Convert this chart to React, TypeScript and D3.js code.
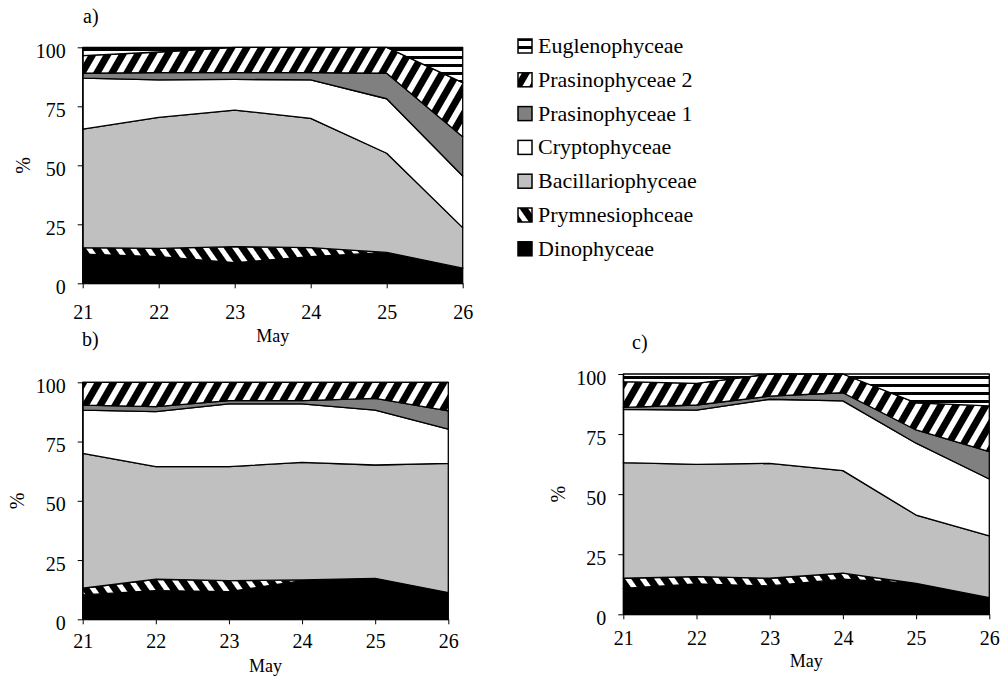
import React, { useRef, useEffect } from "react";
import * as d3 from "d3";

const days = [21, 22, 23, 24, 25, 26];
const yTicks = [0, 25, 50, 75, 100];

// stacking order, bottom to top
const groups = [
  "Dinophyceae",
  "Prymnesiophceae",
  "Bacillariophyceae",
  "Cryptophyceae",
  "Prasinophyceae 1",
  "Prasinophyceae 2",
  "Euglenophyceae",
];

// panel a) - percent of total
const dinoA = [12.4, 11.3, 8.7, 11.3, 13.1, 6.4];
const prymA = [2.7, 3.5, 6.8, 3.8, 0, 0];
const bacA = [50.2, 55.5, 57.9, 54.8, 42, 17.2];
const cryA = [21.6, 15.9, 13, 16.3, 23.1, 21.9];
const pras1A = [2.1, 3.1, 2.9, 3.1, 10.8, 16.6];
const pras2A = [7.5, 8.7, 10.7, 10.7, 11, 22.9];
const eugA = [3.5, 2, 0, 0, 0, 15];

// panel b)
const dinoB = [10.3, 12.1, 11.7, 16.3, 17.3, 11.3];
const prymB = [2.8, 4.8, 4.6, 0.3, 0, 0];
const bacB = [56.9, 47.5, 48.1, 49.6, 47.8, 54.5];
const cryB = [18.3, 23.2, 26.5, 24.7, 23.2, 14.4];
const pras1B = [2.1, 2.1, 1.4, 1.4, 4.9, 7.7];
const pras2B = [9.6, 10.3, 7.7, 7.7, 6.8, 12.1];
const eugB = [0, 0, 0, 0, 0, 0];

// panel c)
const dinoC = [10.8, 12.6, 11.8, 14.6, 12.9, 6.9];
const prymC = [4.2, 3.1, 3.2, 2.5, 0, 0];
const bacC = [48.1, 46.7, 47.8, 42.7, 28.4, 25.7];
const cryC = [22.2, 22.6, 26.7, 29, 29.9, 23.7];
const pras1C = [0.8, 2.1, 1.3, 3.4, 5.5, 11.4];
const pras2C = [10.7, 9, 9.2, 7.8, 11.3, 19];
const eugC = [3.2, 3.9, 0, 0, 12, 13.3];

const fills = [
  "#000000",
  "url(#prymPat)",
  "#c0c0c0",
  "#ffffff",
  "#808080",
  "url(#hatchPat)",
  "url(#stripePat)",
];

const serif = "'Liberation Serif', 'Times New Roman', serif";

const panels = [
  {
    label: "a)", values: [dinoA, prymA, bacA, cryA, pras1A, pras2A, eugA],
    left: 82.7, right: 462.7, top: 47.3, bottom: 283.3,
    labelX: 83, labelY: 23, xPad: 17, mayY: 342, pctX: 23,
  },
  {
    label: "b)", values: [dinoB, prymB, bacB, cryB, pras1B, pras2B, eugB],
    left: 82.7, right: 448.3, top: 382.3, bottom: 619.3,
    labelX: 82, labelY: 346, xPad: 10, mayY: 672, pctX: 17,
  },
  {
    label: "c)", values: [dinoC, prymC, bacC, cryC, pras1C, pras2C, eugC],
    left: 623.3, right: 989.3, top: 374, bottom: 614.3,
    labelX: 632, labelY: 349, xPad: 12, mayY: 667, pctX: 558,
  },
];

export default function App() {
  const svgRef = useRef<SVGSVGElement>(null);

  useEffect(() => {
    const svg = d3.select(svgRef.current);
    svg.selectAll("*").remove();

    // fill patterns
    const defs = svg.append("defs");
    const prym = defs.append("pattern")
      .attr("id", "prymPat").attr("patternUnits", "userSpaceOnUse")
      .attr("width", 12).attr("height", 12)
      .attr("patternTransform", "rotate(-35)");
    prym.append("rect").attr("width", 12).attr("height", 12).attr("fill", "#000");
    prym.append("rect").attr("width", 5).attr("height", 12).attr("fill", "#fff");

    const hatch = defs.append("pattern")
      .attr("id", "hatchPat").attr("patternUnits", "userSpaceOnUse")
      .attr("width", 13).attr("height", 13)
      .attr("patternTransform", "rotate(30)");
    hatch.append("rect").attr("width", 13).attr("height", 13).attr("fill", "#fff");
    hatch.append("rect").attr("width", 7).attr("height", 13).attr("fill", "#000");

    const stripe = defs.append("pattern")
      .attr("id", "stripePat").attr("patternUnits", "userSpaceOnUse")
      .attr("width", 8).attr("height", 8);
    stripe.append("rect").attr("width", 8).attr("height", 8).attr("fill", "#fff");
    stripe.append("rect").attr("width", 8).attr("height", 3).attr("fill", "#000");

    panels.forEach(p => {
      const x = d3.scaleLinear().domain([21, 26]).range([p.left, p.right]);
      const y = d3.scaleLinear().domain([0, 100]).range([p.bottom, p.top]);

      const rows = days.map((d, i) => {
        const r: any = { day: d };
        groups.forEach((k, j) => { r[k] = p.values[j][i]; });
        return r;
      });
      const series = d3.stack().keys(groups)(rows);
      const area = d3.area<any>()
        .x(d => x(d.data.day))
        .y0(d => y(d[0]))
        .y1(d => y(d[1]));

      const g = svg.append("g");

      g.selectAll("path.layer")
        .data(series)
        .join("path")
        .attr("class", "layer")
        .attr("d", area)
        .attr("fill", (d, i) => fills[i])
        .attr("stroke", "#000")
        .attr("stroke-width", 1.3)
        .attr("stroke-linejoin", "round");

      // y axis
      const ya = g.append("g")
        .attr("transform", `translate(${p.left},0)`)
        .call(d3.axisLeft(y).tickValues(yTicks).tickSize(5).tickSizeOuter(0).tickPadding(12));
      ya.attr("font-family", serif).attr("font-size", 20);
      ya.selectAll("text").attr("dy", "0.5em").attr("fill", "#000");
      ya.selectAll("line,path").attr("stroke", "#000");

      // x axis
      const xa = g.append("g")
        .attr("transform", `translate(0,${p.bottom})`)
        .call(d3.axisBottom(x).tickValues(days).tickFormat(d3.format("d")).tickSize(5).tickSizeOuter(0).tickPadding(p.xPad));
      xa.attr("font-family", serif).attr("font-size", 20);
      xa.selectAll("text").attr("fill", "#000");
      xa.selectAll("line,path").attr("stroke", "#000");

      g.append("text")
        .attr("x", (p.left + p.right) / 2)
        .attr("y", p.mayY)
        .attr("text-anchor", "middle")
        .attr("font-family", serif)
        .attr("font-size", 18)
        .text("May");

      g.append("text")
        .attr("transform", `translate(${p.pctX},${(p.top + p.bottom) / 2}) rotate(-90)`)
        .attr("text-anchor", "middle")
        .attr("dominant-baseline", "central")
        .attr("font-family", serif)
        .attr("font-size", 20)
        .text("%");

      g.append("text")
        .attr("x", p.labelX)
        .attr("y", p.labelY)
        .attr("font-family", serif)
        .attr("font-size", 20)
        .text(p.label);
    });

    // legend, top entry is the top layer
    const legend = svg.append("g").attr("transform", "translate(518,46)");
    const entries = groups.map((name, i) => ({ name, fill: fills[i] })).reverse();
    const item = legend.selectAll("g")
      .data(entries)
      .join("g")
      .attr("transform", (d, i) => `translate(0,${i * 33.8})`);
    item.append("rect")
      .attr("x", 0).attr("y", -7)
      .attr("width", 14).attr("height", 14)
      .attr("fill", d => d.fill)
      .attr("stroke", "#000")
      .attr("stroke-width", 1.5);
    item.append("text")
      .attr("x", 20)
      .attr("y", 7)
      .attr("font-family", serif)
      .attr("font-size", 22)
      .text(d => d.name);
  }, []);

  return (
    <svg
      ref={svgRef}
      width={1001}
      height={679}
      style={{ position: "absolute", left: 0, top: 0, background: "#fff" }}
    ></svg>
  );
}
